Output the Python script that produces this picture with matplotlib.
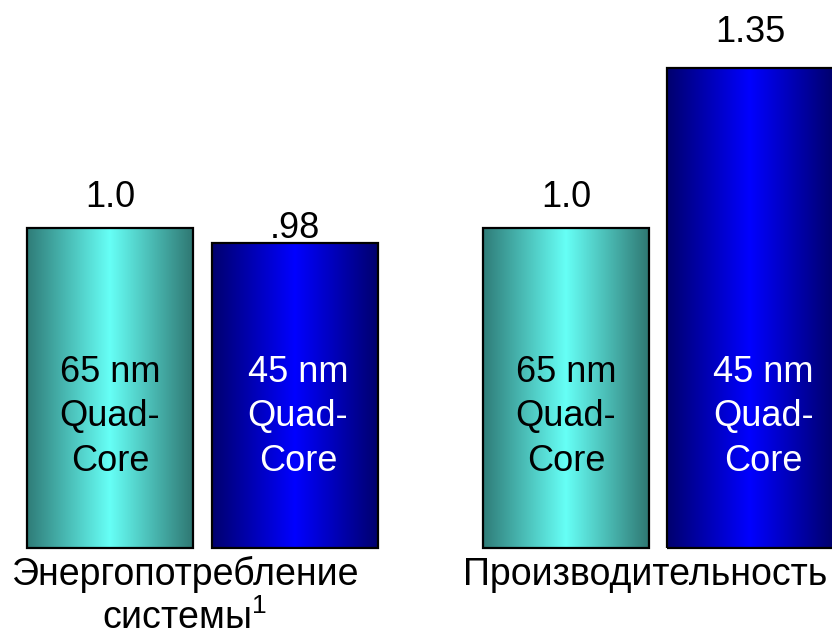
import matplotlib
matplotlib.use("Agg")
import matplotlib.pyplot as plt
import numpy as np
from matplotlib.colors import LinearSegmentedColormap

plt.rcParams["font.family"] = ["Liberation Sans", "DejaVu Sans"]
plt.rcParams["mathtext.fontset"] = "custom"
plt.rcParams["mathtext.rm"] = "Liberation Sans"

# ── Data ──────────────────────────────────────────────────────────────────
group_labels = ["Энергопотребление\nсистемы$^{\\mathrm{1}}$", "Производительность"]
bar_x = [0.0, 1.0, 2.465, 3.46]
bar_heights = [1.0, 0.953, 1.0, 1.5]  # drawn heights as in the slide
value_labels = ["1.0", ".98", "1.0", "1.35"]
chip_labels = ["65 nm\nQuad-\nCore", "45 nm\nQuad-\nCore",
               "65 nm\nQuad-\nCore", "45 nm\nQuad-\nCore"]
chip_kind = ["old", "new", "old", "new"]
group_x = [0.405, 2.89]

# ── Styles ────────────────────────────────────────────────────────────────
BAR_W = 0.897
label_pad_px = [21, 5, 21, 26]
chip_dx_px = [0, 3, 0, 13]
gradients = {
    "old": LinearSegmentedColormap.from_list(
        "teal", ["#2f7c78", "#66fff6", "#2f7873"]),
    "new": LinearSegmentedColormap.from_list(
        "blue", ["#00006e", "#0000ff", "#00006e"]),
}
text_colors = {"old": "black", "new": "white"}

fig = plt.figure(figsize=(8.32, 6.36), dpi=100)
ax = fig.add_axes([0, 0, 1, 1])
ax.set_axis_off()

grad = np.linspace(0, 1, 256).reshape(1, -1)
for x, h, kind in zip(bar_x, bar_heights, chip_kind):
    ax.imshow(grad, cmap=gradients[kind], aspect="auto",
              extent=(x - BAR_W / 2, x + BAR_W / 2, 0, h), zorder=1)
ax.bar(bar_x, bar_heights, width=BAR_W, facecolor="none",
       edgecolor="black", linewidth=1.6, zorder=2)

for x, h, txt, pad in zip(bar_x, bar_heights, value_labels, label_pad_px):
    ax.annotate(txt, (x, h), xytext=(0, pad), textcoords="offset pixels",
                ha="center", va="baseline", fontsize=26)

for x, txt, kind, dx in zip(bar_x, chip_labels, chip_kind, chip_dx_px):
    ax.annotate(txt, (x, 0.41), xytext=(dx, 0), textcoords="offset pixels",
                ha="center", va="center", fontsize=26,
                color=text_colors[kind], linespacing=1.36, zorder=3)

for gx, lbl in zip(group_x, group_labels):
    for i, line in enumerate(lbl.split("\n")):
        ax.annotate(line, (gx, 0), xytext=(0, -37 - 44 * i),
                    textcoords="offset pixels", ha="center", va="baseline",
                    fontsize=27)

ax.set_xlim(-110 / 185, 722 / 185)
ax.set_ylim(-88 / 320, 548 / 320)

fig.savefig("out.png", dpi=100)
